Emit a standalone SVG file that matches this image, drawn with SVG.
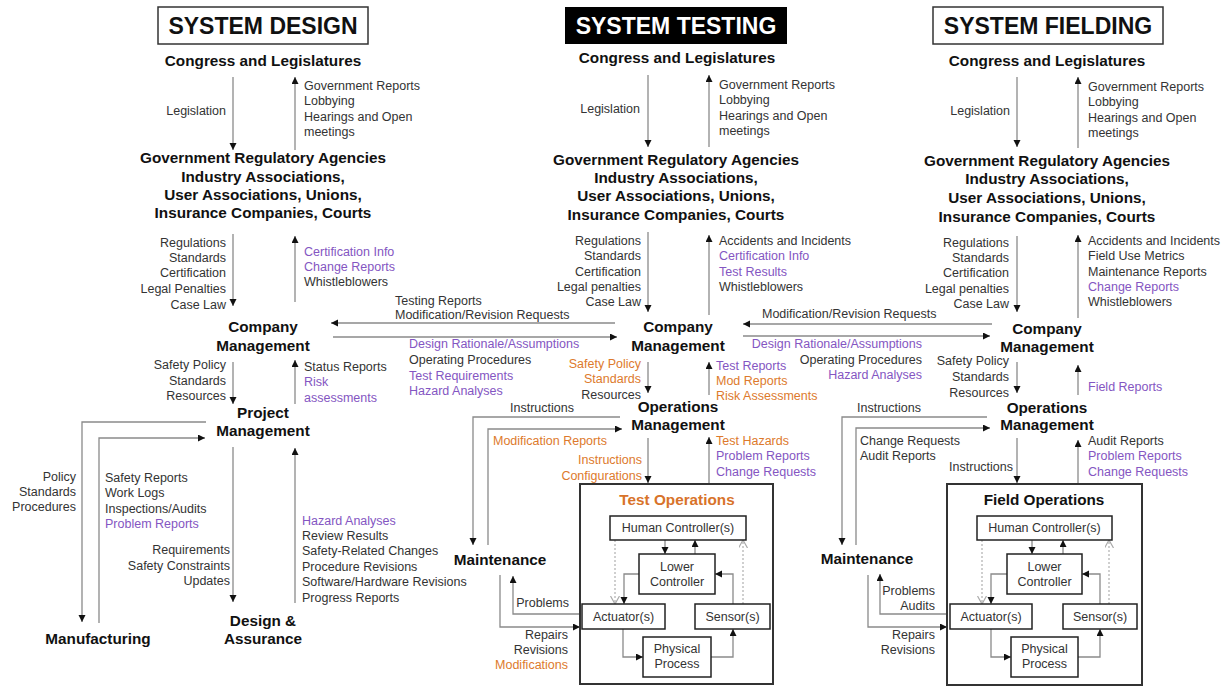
<svg xmlns="http://www.w3.org/2000/svg" width="1225" height="686" viewBox="0 0 1225 686">
  <style>
    text { font-family: "Liberation Sans", Arial, sans-serif; }
    .t { font-size: 12.5px; fill: #333; }
    .e { text-anchor: end; }
    .m { text-anchor: middle; }
    .p { fill: #8456c2; }
    .o { fill: #dd7a2c; }
    .n { font-size: 15.3px; font-weight: bold; fill: #111; text-anchor: middle; }
    .title { font-size: 23px; font-weight: bold; text-anchor: middle; }
    .ln { stroke: #8a8a8a; stroke-width: 1.3; fill: none; marker-end: url(#ah); }
    .dl { stroke: #b0b0b0; stroke-width: 1.2; stroke-dasharray: 2 2; fill: none; marker-end: url(#oa); }
    .box { fill: #fff; stroke: #222; stroke-width: 1.5; }
    .frame { fill: none; stroke: #333; stroke-width: 2; }
  </style>
  <defs>
    <marker id="ah" markerUnits="userSpaceOnUse" markerWidth="8" markerHeight="8" refX="7" refY="3.5" orient="auto">
      <path d="M0,0 L7,3.5 L0,7 z" fill="#111"/>
    </marker>
    <marker id="oa" markerUnits="userSpaceOnUse" markerWidth="10" markerHeight="10" refX="8" refY="4.5" orient="auto">
      <path d="M0,0 L8,4.5 L0,9" fill="none" stroke="#aaa" stroke-width="1.2"/>
    </marker>
  </defs>
  <rect width="1225" height="686" fill="#fff"/>

  <!-- ===== connectors ===== -->
  <g id="connectors">
    <!-- design column -->
    <line class="ln" x1="233" y1="77" x2="233" y2="150"/>
    <line class="ln" x1="295" y1="150" x2="295" y2="77"/>
    <line class="ln" x1="233" y1="234" x2="233" y2="306"/>
    <line class="ln" x1="295" y1="302" x2="295" y2="236"/>
    <line class="ln" x1="615" y1="323" x2="331" y2="323"/>
    <line class="ln" x1="333" y1="337" x2="617" y2="337"/>
    <line class="ln" x1="233" y1="362" x2="233" y2="404"/>
    <line class="ln" x1="295" y1="404" x2="295" y2="360"/>
    <path class="ln" d="M206,422 H82 V622"/>
    <path class="ln" d="M99,623 V438 H205"/>
    <line class="ln" x1="233" y1="447" x2="233" y2="602"/>
    <line class="ln" x1="295" y1="603" x2="295" y2="448"/>

    <!-- testing column -->
    <line class="ln" x1="648" y1="75" x2="648" y2="147"/>
    <line class="ln" x1="709" y1="147" x2="709" y2="75"/>
    <line class="ln" x1="648" y1="232" x2="648" y2="312"/>
    <line class="ln" x1="709" y1="315" x2="709" y2="235"/>
    <line class="ln" x1="648" y1="362" x2="648" y2="393"/>
    <line class="ln" x1="709" y1="395" x2="709" y2="362"/>
    <path class="ln" d="M620,417 H473 V545"/>
    <path class="ln" d="M488,545 V429 H622"/>
    <line class="ln" x1="648" y1="438" x2="648" y2="483"/>
    <line class="ln" x1="709" y1="484" x2="709" y2="437"/>
    <path class="ln" d="M580,614 H513 V576"/>
    <path class="ln" d="M500,575 V627 H580"/>
    <line class="ln" x1="665" y1="540" x2="665" y2="554"/>
    <line class="ln" x1="695" y1="554" x2="695" y2="540"/>
    <path class="ln" d="M639,574 H624 V604"/>
    <path class="ln" d="M733,604 V574 H715"/>
    <path class="ln" d="M623,629 V657 H643"/>
    <path class="ln" d="M711,657 H733 V629"/>
    <line class="dl" x1="615" y1="540" x2="615" y2="604"/>
    <line class="dl" x1="743" y1="604" x2="743" y2="540"/>

    <!-- fielding column -->
    <line class="ln" x1="1017" y1="77" x2="1017" y2="147"/>
    <line class="ln" x1="1078" y1="148" x2="1078" y2="77"/>
    <line class="ln" x1="1017" y1="236" x2="1017" y2="312"/>
    <line class="ln" x1="1078" y1="318" x2="1078" y2="235"/>
    <line class="ln" x1="992" y1="324" x2="743" y2="324"/>
    <line class="ln" x1="743" y1="336" x2="990" y2="336"/>
    <line class="ln" x1="1017" y1="362" x2="1017" y2="393"/>
    <line class="ln" x1="1078" y1="395" x2="1078" y2="365"/>
    <path class="ln" d="M987,417 H842 V545"/>
    <path class="ln" d="M856,545 V428 H990"/>
    <line class="ln" x1="1017" y1="438" x2="1017" y2="483"/>
    <line class="ln" x1="1078" y1="484" x2="1078" y2="440"/>
    <path class="ln" d="M947,614 H880 V574"/>
    <path class="ln" d="M868,575 V627 H947"/>
    <line class="ln" x1="1032" y1="540" x2="1032" y2="554"/>
    <line class="ln" x1="1063" y1="554" x2="1063" y2="540"/>
    <path class="ln" d="M1007,574 H991 V604"/>
    <path class="ln" d="M1100,604 V574 H1082"/>
    <path class="ln" d="M991,629 V657 H1011"/>
    <path class="ln" d="M1078,657 H1100 V629"/>
    <line class="dl" x1="982" y1="540" x2="982" y2="604"/>
    <line class="dl" x1="1109" y1="604" x2="1109" y2="540"/>
  </g>

  <!-- ===== connector labels ===== -->
  <g id="labels" class="t">
    <!-- design column -->
    <text class="t e" x="226" y="115">Legislation</text>
    <text class="t" x="304" y="90">Government Reports</text>
    <text class="t" x="304" y="105">Lobbying</text>
    <text class="t" x="304" y="121">Hearings and Open</text>
    <text class="t" x="304" y="136">meetings</text>
    <text class="t e" x="226" y="247">Regulations</text>
    <text class="t e" x="226" y="262">Standards</text>
    <text class="t e" x="226" y="277">Certification</text>
    <text class="t e" x="226" y="293">Legal Penalties</text>
    <text class="t e" x="226" y="309">Case Law</text>
    <text class="t p" x="304" y="256">Certification Info</text>
    <text class="t p" x="304" y="271">Change Reports</text>
    <text class="t" x="304" y="286">Whistleblowers</text>
    <text class="t" x="395" y="305">Testing Reports</text>
    <text class="t" x="395" y="319">Modification/Revision Requests</text>
    <text class="t p" x="409" y="348">Design Rationale/Assumptions</text>
    <text class="t" x="409" y="364">Operating Procedures</text>
    <text class="t p" x="409" y="380">Test Requirements</text>
    <text class="t p" x="409" y="395">Hazard Analyses</text>
    <text class="t e" x="226" y="369">Safety Policy</text>
    <text class="t e" x="226" y="385">Standards</text>
    <text class="t e" x="226" y="400">Resources</text>
    <text class="t" x="304" y="371">Status Reports</text>
    <text class="t p" x="304" y="386">Risk</text>
    <text class="t p" x="304" y="402">assessments</text>
    <text class="t e" x="76" y="481">Policy</text>
    <text class="t e" x="76" y="496">Standards</text>
    <text class="t e" x="76" y="511">Procedures</text>
    <text class="t" x="105" y="482">Safety Reports</text>
    <text class="t" x="105" y="497">Work Logs</text>
    <text class="t" x="105" y="513">Inspections/Audits</text>
    <text class="t p" x="105" y="528">Problem Reports</text>
    <text class="t e" x="230" y="554">Requirements</text>
    <text class="t e" x="230" y="570">Safety Constraints</text>
    <text class="t e" x="230" y="585">Updates</text>
    <text class="t p" x="302" y="525">Hazard Analyses</text>
    <text class="t" x="302" y="540">Review Results</text>
    <text class="t" x="302" y="555">Safety-Related Changes</text>
    <text class="t" x="302" y="571">Procedure Revisions</text>
    <text class="t" x="302" y="586">Software/Hardware Revisions</text>
    <text class="t" x="302" y="602">Progress Reports</text>

    <!-- testing column -->
    <text class="t e" x="640" y="113">Legislation</text>
    <text class="t" x="719" y="89">Government Reports</text>
    <text class="t" x="719" y="104">Lobbying</text>
    <text class="t" x="719" y="120">Hearings and Open</text>
    <text class="t" x="719" y="135">meetings</text>
    <text class="t e" x="641" y="245">Regulations</text>
    <text class="t e" x="641" y="260">Standards</text>
    <text class="t e" x="641" y="276">Certification</text>
    <text class="t e" x="641" y="291">Legal penalties</text>
    <text class="t e" x="641" y="306">Case Law</text>
    <text class="t" x="719" y="245">Accidents and Incidents</text>
    <text class="t p" x="719" y="260">Certification Info</text>
    <text class="t p" x="719" y="276">Test Results</text>
    <text class="t" x="719" y="291">Whistleblowers</text>
    <text class="t e o" x="641" y="368">Safety Policy</text>
    <text class="t e o" x="641" y="383">Standards</text>
    <text class="t e" x="641" y="399">Resources</text>
    <text class="t p" x="716" y="370">Test Reports</text>
    <text class="t o" x="716" y="385">Mod Reports</text>
    <text class="t o" x="716" y="400">Risk Assessments</text>
    <text class="t" x="510" y="412">Instructions</text>
    <text class="t o" x="493" y="445">Modification Reports</text>
    <text class="t e o" x="642" y="464">Instructions</text>
    <text class="t e o" x="642" y="480">Configurations</text>
    <text class="t o" x="716" y="445">Test Hazards</text>
    <text class="t p" x="716" y="460">Problem Reports</text>
    <text class="t p" x="716" y="476">Change Requests</text>
    <text class="t e" x="569" y="607">Problems</text>
    <text class="t e" x="568" y="639">Repairs</text>
    <text class="t e" x="568" y="654">Revisions</text>
    <text class="t e o" x="568" y="669">Modifications</text>

    <!-- fielding column -->
    <text class="t e" x="1010" y="115">Legislation</text>
    <text class="t" x="1088" y="91">Government Reports</text>
    <text class="t" x="1088" y="106">Lobbying</text>
    <text class="t" x="1088" y="122">Hearings and Open</text>
    <text class="t" x="1088" y="137">meetings</text>
    <text class="t e" x="1009" y="247">Regulations</text>
    <text class="t e" x="1009" y="262">Standards</text>
    <text class="t e" x="1009" y="277">Certification</text>
    <text class="t e" x="1009" y="293">Legal penalties</text>
    <text class="t e" x="1009" y="308">Case Law</text>
    <text class="t" x="1088" y="245">Accidents and Incidents</text>
    <text class="t" x="1088" y="260">Field Use Metrics</text>
    <text class="t" x="1088" y="276">Maintenance Reports</text>
    <text class="t p" x="1088" y="291">Change Reports</text>
    <text class="t" x="1088" y="306">Whistleblowers</text>
    <text class="t" x="762" y="318">Modification/Revision Requests</text>
    <text class="t e p" x="922" y="348">Design Rationale/Assumptions</text>
    <text class="t e" x="922" y="364">Operating Procedures</text>
    <text class="t e p" x="922" y="379">Hazard Analyses</text>
    <text class="t e" x="1009" y="365">Safety Policy</text>
    <text class="t e" x="1009" y="381">Standards</text>
    <text class="t e" x="1009" y="397">Resources</text>
    <text class="t p" x="1088" y="391">Field Reports</text>
    <text class="t" x="857" y="412">Instructions</text>
    <text class="t" x="860" y="445">Change Requests</text>
    <text class="t" x="860" y="460">Audit Reports</text>
    <text class="t e" x="1013" y="471">Instructions</text>
    <text class="t" x="1088" y="445">Audit Reports</text>
    <text class="t p" x="1088" y="460">Problem Reports</text>
    <text class="t p" x="1088" y="476">Change Requests</text>
    <text class="t e" x="935" y="595">Problems</text>
    <text class="t e" x="935" y="610">Audits</text>
    <text class="t e" x="935" y="639">Repairs</text>
    <text class="t e" x="935" y="654">Revisions</text>
  </g>

  <!-- ===== System Design column ===== -->
  <g id="design-title">
    <rect x="158" y="7" width="210" height="37" fill="#fff" stroke="#333" stroke-width="1.5"/>
    <text class="title" x="263" y="34" fill="#111">SYSTEM DESIGN</text>
  </g>
  <g id="design-congress"><text class="n" x="263" y="66">Congress and Legislatures</text></g>
  <g id="design-agencies">
    <text class="n" x="263" y="163">Government Regulatory Agencies</text>
    <text class="n" x="263" y="182">Industry Associations,</text>
    <text class="n" x="263" y="200">User Associations, Unions,</text>
    <text class="n" x="263" y="218">Insurance Companies, Courts</text>
  </g>
  <g id="design-company">
    <text class="n" x="263" y="332">Company</text>
    <text class="n" x="263" y="351">Management</text>
  </g>
  <g id="design-project">
    <text class="n" x="263" y="418">Project</text>
    <text class="n" x="263" y="436">Management</text>
  </g>
  <g id="design-assurance">
    <text class="n" x="263" y="626">Design &amp;</text>
    <text class="n" x="263" y="644">Assurance</text>
  </g>
  <g id="design-manufacturing"><text class="n" x="98" y="644">Manufacturing</text></g>

  <!-- ===== System Testing column ===== -->
  <g id="testing-title">
    <rect x="565" y="7" width="222" height="37" fill="#000"/>
    <text class="title" x="676" y="34" fill="#fff">SYSTEM TESTING</text>
  </g>
  <g id="testing-congress"><text class="n" x="677" y="63">Congress and Legislatures</text></g>
  <g id="testing-agencies">
    <text class="n" x="676" y="165">Government Regulatory Agencies</text>
    <text class="n" x="676" y="183">Industry Associations,</text>
    <text class="n" x="676" y="201">User Associations, Unions,</text>
    <text class="n" x="676" y="220">Insurance Companies, Courts</text>
  </g>
  <g id="testing-company">
    <text class="n" x="678" y="332">Company</text>
    <text class="n" x="678" y="351">Management</text>
  </g>
  <g id="testing-operations">
    <text class="n" x="678" y="412">Operations</text>
    <text class="n" x="678" y="430">Management</text>
  </g>
  <g id="testing-maintenance"><text class="n" x="500" y="565">Maintenance</text></g>
  <g id="test-operations">
    <rect class="frame" x="580" y="484" width="193" height="200"/>
    <text class="n" x="677" y="505" style="fill:#d8732a">Test Operations</text>
  </g>
  <g id="test-human">
    <rect class="box" x="610" y="516" width="136" height="24"/>
    <text class="t m" x="678" y="532">Human Controller(s)</text>
  </g>
  <g id="test-lower">
    <rect class="box" x="639" y="554" width="76" height="40"/>
    <text class="t m" x="677" y="571">Lower</text>
    <text class="t m" x="677" y="586">Controller</text>
  </g>
  <g id="test-actuator">
    <rect class="box" x="582" y="604" width="83" height="25"/>
    <text class="t m" x="623.5" y="621">Actuator(s)</text>
  </g>
  <g id="test-sensor">
    <rect class="box" x="695" y="604" width="75" height="25"/>
    <text class="t m" x="732.5" y="621">Sensor(s)</text>
  </g>
  <g id="test-process">
    <rect class="box" x="643" y="637" width="68" height="40"/>
    <text class="t m" x="677" y="653">Physical</text>
    <text class="t m" x="677" y="668">Process</text>
  </g>

  <!-- ===== System Fielding column ===== -->
  <g id="fielding-title">
    <rect x="933" y="7" width="230" height="37" fill="#fff" stroke="#333" stroke-width="1.5"/>
    <text class="title" x="1048" y="34" fill="#111">SYSTEM FIELDING</text>
  </g>
  <g id="fielding-congress"><text class="n" x="1047" y="66">Congress and Legislatures</text></g>
  <g id="fielding-agencies">
    <text class="n" x="1047" y="166">Government Regulatory Agencies</text>
    <text class="n" x="1047" y="184">Industry Associations,</text>
    <text class="n" x="1047" y="203">User Associations, Unions,</text>
    <text class="n" x="1047" y="222">Insurance Companies, Courts</text>
  </g>
  <g id="fielding-company">
    <text class="n" x="1047" y="334">Company</text>
    <text class="n" x="1047" y="352">Management</text>
  </g>
  <g id="fielding-operations">
    <text class="n" x="1047" y="413">Operations</text>
    <text class="n" x="1047" y="430">Management</text>
  </g>
  <g id="fielding-maintenance"><text class="n" x="867" y="564">Maintenance</text></g>
  <g id="field-operations">
    <rect class="frame" x="947" y="484" width="195" height="201"/>
    <text class="n" x="1044" y="505">Field Operations</text>
  </g>
  <g id="field-human">
    <rect class="box" x="977" y="516" width="135" height="24"/>
    <text class="t m" x="1044.5" y="532">Human Controller(s)</text>
  </g>
  <g id="field-lower">
    <rect class="box" x="1007" y="554" width="75" height="40"/>
    <text class="t m" x="1044.5" y="571">Lower</text>
    <text class="t m" x="1044.5" y="586">Controller</text>
  </g>
  <g id="field-actuator">
    <rect class="box" x="950" y="604" width="82" height="25"/>
    <text class="t m" x="991" y="621">Actuator(s)</text>
  </g>
  <g id="field-sensor">
    <rect class="box" x="1063" y="604" width="74" height="25"/>
    <text class="t m" x="1100" y="621">Sensor(s)</text>
  </g>
  <g id="field-process">
    <rect class="box" x="1011" y="637" width="67" height="40"/>
    <text class="t m" x="1044.5" y="653">Physical</text>
    <text class="t m" x="1044.5" y="668">Process</text>
  </g>
</svg>
